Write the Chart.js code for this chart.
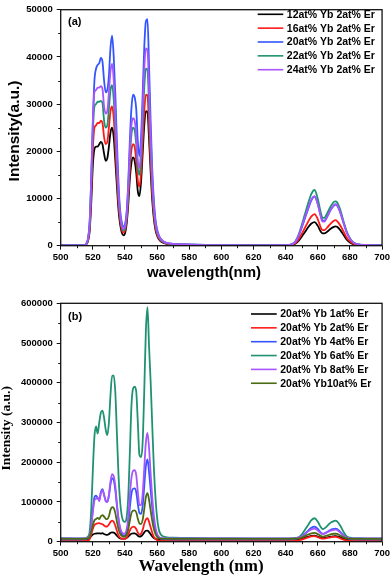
<!DOCTYPE html>
<html>
<head>
<meta charset="utf-8">
<script src="https://cdn.jsdelivr.net/npm/chart.js@4"></script>
<style>
  body { margin: 0; background: #fff; }
  .wrap { position: absolute; left: 0; width: 392px; }
  #wrap_a { top: 0; height: 290px; }
  #wrap_b { top: 290px; height: 289px; }
</style>
</head>
<body>
<div class="wrap" id="wrap_a"><canvas id="chart_a" width="392" height="290"></canvas></div>
<div class="wrap" id="wrap_b"><canvas id="chart_b" width="392" height="289"></canvas></div>
<script>
// shared wavelength grid (nm)
var wavelengths = [500, 510, 515, 516, 517, 518, 519, 520, 521, 522, 523, 524, 525, 526, 527, 528, 529, 530, 531, 532,
  533, 534, 535, 536, 537, 538, 539, 540, 541, 542, 543, 544, 545, 546, 547, 548, 549, 550, 551, 552,
  553, 554, 555, 556, 557, 558, 559, 560, 561, 562, 564, 566, 570, 580, 600, 620, 640, 644, 646, 648,
  650, 652, 654, 656, 658, 660, 662, 663, 664, 666, 668, 670, 671, 672, 674, 676, 678, 680, 682, 685, 690, 700];

// panel (a): Yb series, 2at% Er
var labels_a = ['12at% Yb 2at% Er', '16at% Yb 2at% Er', '20at% Yb 2at% Er', '22at% Yb 2at% Er', '24at% Yb 2at% Er'];
var yb12 = [50, 50, 50, 300, 1000, 3000, 9000, 17000, 20500, 21000,
  21000, 21500, 22000, 21500, 19500, 18000, 18500, 21000, 24000, 25000,
  23000, 18000, 12500, 7500, 4500, 2800, 2200, 2600, 4500, 8500,
  14000, 17500, 18700, 18000, 15500, 11500, 10500, 13500, 19500, 25500,
  28500, 28300, 22500, 15500, 9500, 5600, 3300, 2100, 1400, 1000,
  600, 400, 250, 150, 60, 50, 60, 150, 400, 1000,
  1900, 2900, 3900, 4700, 5000, 4200, 2900, 2600, 2600, 3000,
  3600, 4000, 4100, 4000, 3300, 2300, 1300, 700, 350, 150, 80, 50];
var yb16 = [60, 60, 60, 350, 1200, 3600, 11000, 20500, 25000, 25500,
  26000, 26000, 26500, 26000, 23000, 21500, 22000, 25000, 28500, 29500,
  27000, 21000, 14500, 8800, 5300, 3400, 2800, 3200, 5300, 9800,
  16000, 20200, 21500, 21000, 18000, 13800, 12500, 15500, 22000, 28500,
  32000, 31800, 25000, 17500, 10800, 6400, 3800, 2400, 1600, 1150,
  700, 450, 300, 180, 70, 60, 70, 200, 500, 1300,
  2500, 3800, 5100, 6200, 6700, 5600, 3700, 3300, 3300, 3900,
  4700, 5300, 5400, 5200, 4300, 3000, 1700, 900, 450, 200, 100, 60];
var yb20 = [100, 100, 100, 500, 1500, 5000, 14000, 26000, 35000, 37500,
  38300, 38700, 39800, 39000, 35000, 32500, 33000, 36000, 42000, 44500,
  40000, 32000, 22000, 13000, 7500, 5000, 4000, 4500, 7000, 13000,
  22000, 29000, 32000, 31500, 29000, 22000, 19000, 23000, 32000, 42000,
  47500, 48000, 38000, 26000, 16000, 9500, 5500, 3500, 2300, 1600,
  900, 600, 400, 250, 100, 80, 100, 300, 800, 2000,
  3800, 5800, 7800, 9600, 10400, 8800, 6200, 5300, 5300, 6300,
  7600, 8500, 8700, 8500, 7000, 4800, 2800, 1500, 700, 300, 150, 100];
var yb22 = [80, 80, 80, 450, 1400, 4300, 13000, 24000, 29500, 30000,
  30500, 30500, 30700, 30200, 26500, 25000, 25500, 29000, 33000, 34000,
  31000, 24500, 17000, 10300, 6200, 4000, 3200, 3700, 6000, 11300,
  18500, 23500, 25000, 24500, 21500, 16500, 15000, 18500, 26000, 33500,
  37500, 37300, 29500, 20500, 12700, 7500, 4400, 2800, 1900, 1350,
  800, 520, 340, 210, 90, 70, 90, 350, 900, 2300,
  4400, 6700, 9000, 11000, 11800, 9900, 6800, 5900, 5900, 7000,
  8300, 9300, 9400, 9200, 7600, 5200, 3000, 1600, 750, 320, 160, 90];
var yb24 = [80, 80, 80, 480, 1500, 4700, 14300, 26500, 32500, 33000,
  33500, 33500, 33800, 33200, 29500, 28000, 28500, 32500, 37000, 38500,
  35000, 27500, 19000, 11500, 6800, 4400, 3500, 4000, 6500, 12300,
  20000, 25500, 27000, 26500, 23500, 18000, 16500, 20500, 29000, 37500,
  41800, 41500, 33000, 23000, 14200, 8400, 4900, 3100, 2100, 1500,
  900, 580, 380, 230, 100, 80, 100, 320, 820, 2100,
  4000, 6000, 8000, 9800, 10500, 8800, 5900, 5100, 5100, 6200,
  7600, 8600, 8800, 8600, 7100, 4900, 2800, 1500, 700, 300, 150, 80];

// panel (b): 20at% Yb, Er series
var labels_b = ['20at% Yb 1at% Er', '20at% Yb 2at% Er', '20at% Yb 4at% Er', '20at% Yb 6at% Er', '20at% Yb 8at% Er', '20at% Yb10at% Er'];
var er1 = [5000, 5000, 5000, 5500, 6500, 9000, 14000, 18000, 20000, 20500,
  21000, 21000, 20500, 21500, 19500, 17500, 17000, 19000, 22500, 23500,
  23000, 20000, 15000, 11000, 8500, 7500, 7500, 8000, 9500, 13000,
  17000, 20000, 21000, 21000, 19000, 15000, 13000, 14000, 18000, 23500,
  27500, 28000, 24000, 18500, 13000, 9000, 7000, 6000, 5500, 5000,
  5000, 5000, 5000, 5000, 5000, 5000, 5000, 5000, 5500, 6500,
  8000, 10000, 12500, 14500, 15000, 13000, 10000, 9500, 9500, 11000,
  12500, 13500, 14000, 13500, 11000, 8000, 6000, 5500, 5000, 5000, 5000, 5000];
var er2 = [1500, 1500, 1500, 2000, 3000, 6000, 18000, 33000, 42000, 45000,
  46000, 46500, 45000, 44000, 41000, 38000, 38500, 43000, 50000, 53000,
  50000, 40000, 27000, 16000, 10000, 7500, 7000, 7500, 10000, 17000,
  28000, 35000, 38000, 37000, 32000, 23000, 18000, 20000, 30000, 45000,
  56000, 59000, 50000, 36000, 22000, 12000, 7000, 4000, 2500, 2000,
  1500, 1500, 1500, 1500, 1500, 1500, 1500, 1500, 2000, 3000,
  5000, 8000, 11000, 13500, 14000, 11500, 8500, 8000, 8000, 9500,
  11000, 12000, 12000, 11500, 8500, 5000, 2500, 1800, 1500, 1500, 1500, 1500];
var er4 = [6000, 6000, 6500, 7000, 9000, 15000, 40000, 80000, 112000, 116000,
  110000, 105000, 125000, 132000, 118000, 103000, 100000, 115000, 145000, 160000,
  155000, 130000, 90000, 55000, 32000, 20000, 15000, 16000, 22000, 45000,
  85000, 120000, 133000, 134000, 125000, 95000, 72000, 70000, 90000, 140000,
  190000, 207000, 175000, 130000, 85000, 50000, 28000, 16000, 10000, 8000,
  7000, 6500, 6000, 6000, 6000, 6000, 6000, 6500, 7000, 9000,
  13000, 20000, 28000, 35000, 38000, 32000, 22000, 20000, 20500, 25000,
  30000, 32000, 33000, 32000, 25000, 16000, 9000, 7000, 6500, 6000, 6000, 6000];
var er6 = [9000, 8500, 9000, 10000, 13000, 25000, 80000, 180000, 265000, 290000,
  272000, 300000, 325000, 330000, 312000, 282000, 268000, 300000, 370000, 418000,
  418000, 375000, 270000, 165000, 100000, 65000, 52000, 50000, 60000, 110000,
  220000, 340000, 385000, 390000, 378000, 300000, 218000, 213000, 250000, 380000,
  530000, 590000, 490000, 400000, 290000, 185000, 110000, 60000, 32000, 20000,
  13000, 11000, 10000, 9500, 9000, 8500, 8500, 9000, 9500, 11000,
  18000, 30000, 42000, 54000, 59000, 50000, 36000, 32000, 33000, 40000,
  48000, 52000, 53000, 51000, 40000, 25000, 13000, 10000, 9000, 9000, 8500, 8500];
var er8 = [8000, 8000, 8000, 8500, 10000, 15000, 38000, 75000, 104000, 108000,
  112000, 102000, 122000, 130000, 117000, 103000, 100000, 118000, 152000, 170000,
  165000, 140000, 95000, 58000, 35000, 24000, 20000, 21000, 30000, 60000,
  115000, 160000, 178000, 180000, 168000, 125000, 93000, 92000, 120000, 185000,
  250000, 274000, 235000, 170000, 110000, 65000, 36000, 20000, 13000, 10000,
  8500, 8000, 8000, 8000, 8000, 8000, 8000, 8000, 8500, 10000,
  13000, 19000, 26000, 31000, 33000, 28000, 21000, 19500, 20000, 24000,
  28000, 30000, 30500, 29500, 23000, 15000, 10000, 8500, 8000, 8000, 8000, 8000];
var er10 = [7000, 7000, 7000, 7500, 8500, 12000, 25000, 42000, 54000, 57000,
  60000, 57000, 64000, 67000, 63000, 58000, 57000, 64000, 80000, 87000,
  85000, 72000, 50000, 31000, 20000, 15000, 13000, 13500, 17000, 30000,
  52000, 72000, 78000, 79000, 74000, 58000, 46000, 45000, 55000, 82000,
  112000, 122000, 105000, 78000, 52000, 32000, 19000, 12000, 9000, 8000,
  7500, 7000, 7000, 7000, 7000, 7000, 7000, 7000, 7500, 8500,
  10500, 14000, 18000, 21000, 22000, 19000, 14000, 13000, 13500, 16000,
  18500, 20000, 20000, 19500, 15500, 11000, 8500, 7500, 7000, 7000, 7000, 7000];

var colors_a = ['#000000', '#ff1a1a', '#3355ff', '#1f9272', '#a855ff'];
var colors_b = ['#000000', '#ff1a1a', '#3355ff', '#1f9272', '#a855ff', '#4b6a12'];
var sans = "'Liberation Sans', Arial, sans-serif";
var serif = "'Liberation Serif', 'Times New Roman', serif";

function to_points(vals) {
  return wavelengths.map(function (w, i) { return { x: w, y: vals[i] }; });
}

function make_sets(series, names, colors) {
  return series.map(function (s, i) {
    return {
      label: names[i],
      data: to_points(s),
      borderColor: colors[i],
      borderWidth: 1.8,
      pointRadius: 0,
      cubicInterpolationMode: 'monotone',
      order: series.length - i
    };
  });
}

// frame, minor ticks, legend, axis titles, panel tag
var decor = {
  id: 'decor',
  afterDraw: function (chart) {
    var o = chart.options.plugins.decor;
    var ctx = chart.ctx;
    var a = chart.chartArea;
    var xs = chart.scales.x;
    var ys = chart.scales.y;
    ctx.save();
    ctx.strokeStyle = '#111';
    ctx.lineWidth = 1.3;
    ctx.strokeRect(a.left, a.top, a.right - a.left, a.bottom - a.top);

    ctx.lineWidth = 1;
    ctx.beginPath();
    for (var w = 510; w < 700; w += 20) {
      var px = Math.round(xs.getPixelForValue(w)) + 0.5;
      ctx.moveTo(px, a.bottom);
      ctx.lineTo(px, a.bottom + 2.5);
    }
    for (var v = o.minorY; v < ys.max; v += o.stepY) {
      var py = Math.round(ys.getPixelForValue(v)) + 0.5;
      ctx.moveTo(a.left, py);
      ctx.lineTo(a.left - 2.5, py);
    }
    ctx.stroke();

    // legend
    ctx.font = 'bold 10.5px ' + sans;
    ctx.textBaseline = 'middle';
    ctx.textAlign = 'left';
    chart.data.datasets.forEach(function (ds, i) {
      var y = o.legY + i * o.legGap;
      ctx.strokeStyle = ds.borderColor;
      ctx.lineWidth = 1.6;
      ctx.beginPath();
      ctx.moveTo(o.legX0, y);
      ctx.lineTo(o.legX1, y);
      ctx.stroke();
      ctx.fillStyle = '#000';
      ctx.fillText(ds.label, o.legX1 + 3.5, y + 0.5);
    });

    // panel tag
    ctx.font = 'bold 11px ' + sans;
    ctx.fillText(o.tag, 68, o.tagY);

    // axis titles
    ctx.textAlign = 'center';
    ctx.font = o.xFont;
    ctx.fillText(o.xTitle, o.xTitleX, o.xTitleY);
    ctx.translate(o.yTitleX, o.yTitleY);
    ctx.rotate(-Math.PI / 2);
    ctx.font = o.yFont;
    ctx.fillText(o.yTitle, 0, 0);
    ctx.restore();
  }
};

function make_chart(id, sets, ymax, ystep, pad, xh, deco) {
  var ctx = document.getElementById(id).getContext('2d');
  return new Chart(ctx, {
    type: 'line',
    data: { datasets: sets },
    plugins: [decor],
    options: {
      responsive: false,
      animation: false,
      layout: { padding: pad },
      plugins: { legend: { display: false }, tooltip: { enabled: false }, decor: deco },
      scales: {
        x: {
          type: 'linear', min: 500, max: 700,
          afterFit: function (s) { s.height = xh; },
          border: { display: false },
          grid: { drawOnChartArea: false, tickLength: 4, color: '#111', lineWidth: 1 },
          ticks: { stepSize: 20, padding: 2, maxRotation: 0, autoSkip: false, color: '#000',
                   font: { family: sans, size: 9.5, weight: 'bold' } }
        },
        y: {
          min: 0, max: ymax,
          afterFit: function (s) { s.width = 60.7; },
          border: { display: false },
          grid: { drawOnChartArea: false, tickLength: 4, color: '#111', lineWidth: 1 },
          ticks: { stepSize: ystep, padding: 4, color: '#000',
                   font: { family: sans, size: 9.5, weight: 'bold' },
                   callback: function (v) { return String(v); } }
        }
      }
    }
  });
}

make_chart('chart_a', make_sets([yb12, yb16, yb20, yb22, yb24], labels_a, colors_a),
  50000, 10000, { top: 6, right: 9.7, left: 0, bottom: 0 }, 44.3,
  { minorY: 5000, stepY: 10000, legX0: 257.7, legX1: 283.3, legY: 14.3, legGap: 13.85,
    tag: '(a)', tagY: 22,
    xTitle: 'wavelength(nm)', xFont: 'bold 15px ' + sans, xTitleX: 204, xTitleY: 273,
    yTitle: 'Intensity(a.u.)', yFont: 'bold 15.5px ' + sans, yTitleX: 15, yTitleY: 131 });

make_chart('chart_b', make_sets([er1, er2, er4, er6, er8, er10], labels_b, colors_b),
  600000, 100000, { top: 13.3, right: 9.7, left: 0, bottom: 0 }, 37.3,
  { minorY: 50000, stepY: 100000, legX0: 251, legX1: 276.7, legY: 24, legGap: 13.85,
    tag: '(b)', tagY: 26.7,
    xTitle: 'Wavelength (nm)', xFont: 'bold 17px ' + serif, xTitleX: 201, xTitleY: 276.7,
    yTitle: 'Intensity (a.u.)', yFont: 'bold 13.5px ' + serif, yTitleX: 7, yTitleY: 138.3 });
</script>
</body>
</html>
